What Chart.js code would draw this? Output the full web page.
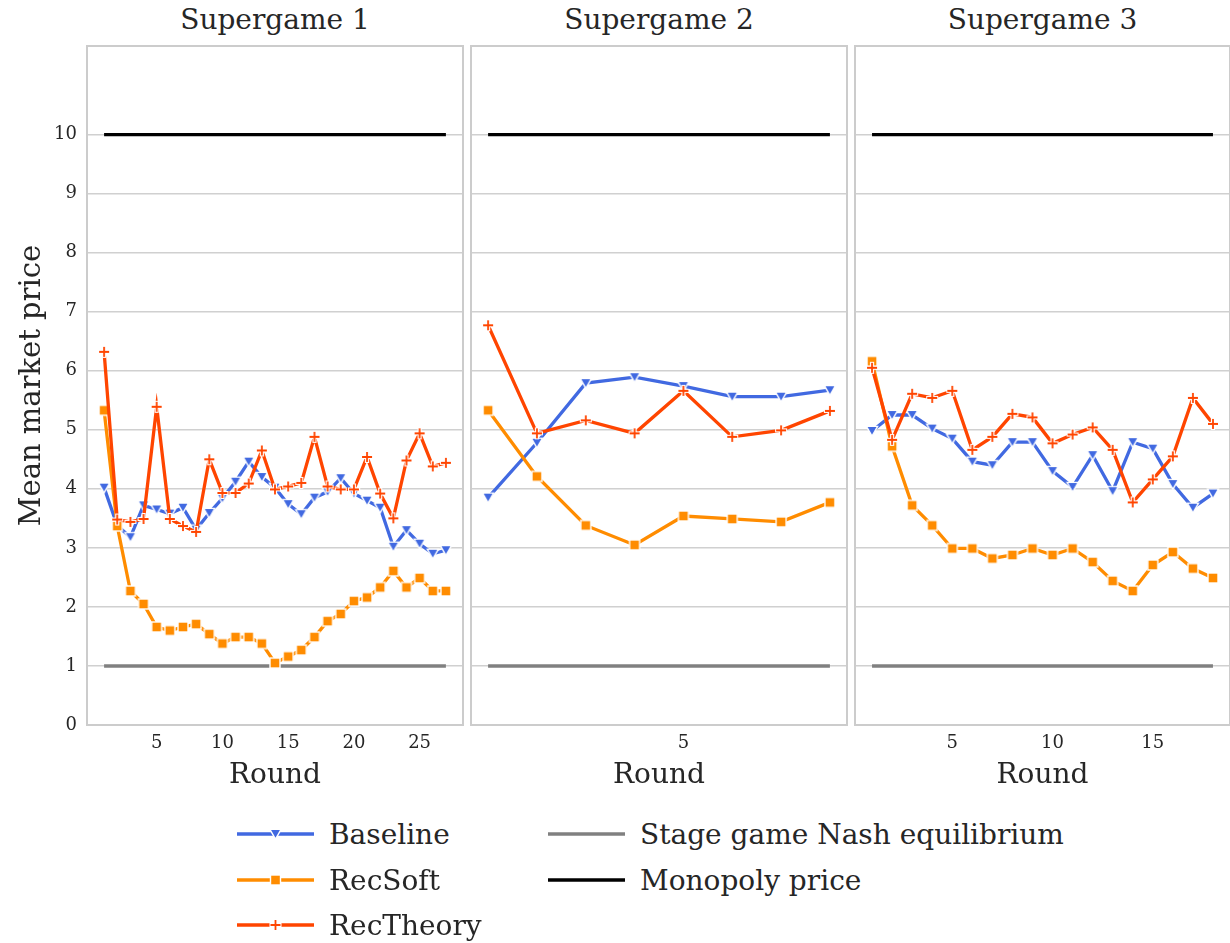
<!DOCTYPE html>
<html><head><meta charset="utf-8">
<script src="https://cdn.jsdelivr.net/npm/chart.js@4.4.0/dist/chart.umd.min.js"></script>
<style>
html,body{margin:0;padding:0;background:#fff;width:1230px;height:943px;overflow:hidden;font-family:"DejaVu Serif",serif;}
canvas.panel{position:absolute;top:0;}
.title{position:absolute;top:0;height:40px;line-height:40px;font-size:28px;color:#262626;text-align:center;white-space:nowrap;}
.leg{position:absolute;height:40px;display:flex;align-items:center;font-size:28px;color:#262626;white-space:nowrap;}
.leg canvas{margin-right:15px;}
</style></head><body>
<div class="title" style="left:87px;width:376px;">Supergame 1</div>
<div class="title" style="left:471px;width:376px;">Supergame 2</div>
<div class="title" style="left:855px;width:375px;">Supergame 3</div>
<canvas id="c1" class="panel" width="466" height="800" style="left:0px;width:466px;height:800px;"></canvas>
<canvas id="c2" class="panel" width="382" height="800" style="left:468px;width:382px;height:800px;"></canvas>
<canvas id="c3" class="panel" width="379" height="800" style="left:851px;width:379px;height:800px;"></canvas>
<div id="legend"></div>
<script>
// ---------- data ----------
const supergames = ['Supergame 1', 'Supergame 2', 'Supergame 3'];
const seriesNames = ['Baseline', 'RecSoft', 'RecTheory'];
const refNames = ['Stage game Nash equilibrium', 'Monopoly price'];
const nashPrice = 1;
const monopolyPrice = 10;

const rounds1 = [1,2,3,4,5,6,7,8,9,10,11,12,13,14,15,16,17,18,19,20,21,22,23,24,25,26,27];
const baseline1 = [4.02,3.38,3.18,3.72,3.65,3.58,3.68,3.31,3.59,3.84,4.12,4.46,4.20,4.02,3.74,3.57,3.85,3.95,4.18,3.92,3.80,3.68,3.02,3.30,3.07,2.90,2.96];
const recSoft1 = [5.33,3.37,2.27,2.05,1.66,1.60,1.66,1.71,1.54,1.38,1.49,1.49,1.38,1.05,1.16,1.27,1.49,1.76,1.88,2.10,2.16,2.33,2.61,2.33,2.49,2.27,2.27];
const recTheory1 = [6.32,3.48,3.44,3.49,5.39,3.49,3.37,3.27,4.50,3.93,3.93,4.09,4.65,3.99,4.04,4.10,4.88,4.04,3.99,3.99,4.54,3.92,3.50,4.48,4.94,4.38,4.44];

const rounds2 = [1,2,3,4,5,6,7,8];
const baseline2 = [3.85,4.78,5.79,5.89,5.74,5.56,5.56,5.67];
const recSoft2 = [5.33,4.21,3.38,3.05,3.54,3.49,3.44,3.77];
const recTheory2 = [6.77,4.94,5.16,4.94,5.66,4.88,4.99,5.32];

const rounds3 = [1,2,3,4,5,6,7,8,9,10,11,12,13,14,15,16,17,18];
const baseline3 = [4.98,5.25,5.25,5.02,4.85,4.46,4.40,4.79,4.79,4.30,4.03,4.57,3.96,4.79,4.68,4.08,3.68,3.92];
const recSoft3 = [6.16,4.72,3.72,3.38,2.99,2.99,2.82,2.88,2.99,2.88,2.99,2.76,2.44,2.27,2.71,2.93,2.65,2.49];
const recTheory3 = [6.05,4.83,5.61,5.54,5.66,4.66,4.88,5.27,5.21,4.77,4.92,5.04,4.66,3.77,4.16,4.55,5.54,5.10];

const yTicks = [0,1,2,3,4,5,6,7,8,9,10];
const xTicks1 = [5,10,15,20,25];
const xTicks2 = [5];
const xTicks3 = [5,10,15];
const xTitle = 'Round';
const yTitle = 'Mean market price';

// ---------- styles ----------
const FONT = '"DejaVu Serif", serif';
const TXT = '#262626';
const BLUE = '#4169E1', ORANGE = '#FF8C00', RED = '#FF4500', GREY = '#808080', BLACK = '#000000';
const GRID = '#d0d0d0';

function mk(w, h, fn){ const c=document.createElement('canvas'); c.width=w; c.height=h; fn(c.getContext('2d'), w, h); return c; }
function drawTri(ctx, cx, cy){
  ctx.beginPath(); ctx.moveTo(cx-5.6, cy-4.6); ctx.lineTo(cx+5.6, cy-4.6); ctx.lineTo(cx, cy+5.2); ctx.closePath();
  ctx.fillStyle=BLUE; ctx.fill(); ctx.strokeStyle='#fff'; ctx.lineWidth=1.4; ctx.stroke();
}
function drawSq(ctx, cx, cy){
  ctx.fillStyle=ORANGE; ctx.fillRect(cx-5, cy-5, 10, 10);
  ctx.strokeStyle='#fff'; ctx.lineWidth=1.4; ctx.strokeRect(cx-5, cy-5, 10, 10);
}
function drawPlus(ctx, cx, cy){
  ctx.lineCap='butt';
  ctx.strokeStyle='#fff'; ctx.lineWidth=4.2;
  ctx.beginPath(); ctx.moveTo(cx-6, cy); ctx.lineTo(cx+6, cy); ctx.moveTo(cx, cy-6); ctx.lineTo(cx, cy+6); ctx.stroke();
  ctx.strokeStyle=RED; ctx.lineWidth=1.8;
  ctx.beginPath(); ctx.moveTo(cx-5, cy); ctx.lineTo(cx+5, cy); ctx.moveTo(cx, cy-5); ctx.lineTo(cx, cy+5); ctx.stroke();
}
const triImg = mk(16,16,(c)=>drawTri(c,8,8));
const sqImg = mk(16,16,(c)=>drawSq(c,8,8));
const plusImg = mk(16,16,(c)=>drawPlus(c,8,8));

const frame = {
  id:'frame',
  beforeDatasetsDraw(chart){
    const a = chart.chartArea, ctx = chart.ctx;
    ctx.save(); ctx.strokeStyle='#cccccc'; ctx.lineWidth=2;
    ctx.strokeRect(a.left, a.top, a.right-a.left, a.bottom-a.top);
    ctx.restore();
  }
};

function pts(xs, ys){ return xs.map((x,i)=>({x:x, y:ys[i]})); }

function makeChart(id, rounds, base, soft, theory, xmin, xmax, xticks, showY, pad){
  const first = rounds[0], last = rounds[rounds.length-1];
  new Chart(document.getElementById(id), {
    type:'line',
    data:{datasets:[
      {label:seriesNames[2], data:pts(rounds, theory), borderColor:RED, borderWidth:3.3, pointStyle:plusImg, pointRadius:7, order:0},
      {label:seriesNames[1], data:pts(rounds, soft), borderColor:ORANGE, borderWidth:3.3, pointStyle:sqImg, pointRadius:7, order:1},
      {label:seriesNames[0], data:pts(rounds, base), borderColor:BLUE, borderWidth:3.3, pointStyle:triImg, pointRadius:7, order:2},
      {label:refNames[1], data:[{x:first,y:monopolyPrice},{x:last,y:monopolyPrice}], borderColor:BLACK, borderWidth:3.2, pointRadius:0, order:3},
      {label:refNames[0], data:[{x:first,y:nashPrice},{x:last,y:nashPrice}], borderColor:GREY, borderWidth:3.6, pointRadius:0, order:4}
    ]},
    options:{
      responsive:false, animation:false, events:[],
      layout:{autoPadding:false, padding:{top:46, left:pad[0], right:pad[1], bottom:0}},
      plugins:{legend:{display:false}, tooltip:{enabled:false}, title:{display:false}},
      scales:{
        x:{type:'linear', min:xmin, max:xmax,
           grid:{display:false, drawTicks:false}, border:{display:false},
           afterBuildTicks:(s)=>{ s.ticks = xticks.map(v=>({value:v})); },
           afterFit:(s)=>{ s.height = 75; },
           ticks:{font:{family:FONT, size:18}, color:TXT, padding:8, maxRotation:0, autoSkip:false},
           title:{display:true, text:xTitle, font:{family:FONT, size:28}, color:TXT, padding:{top:0, bottom:7}}},
        y:{type:'linear', min:0, max:11.5,
           grid:{color:GRID, lineWidth:1.6, drawTicks:false}, border:{display:false},
           afterBuildTicks:(s)=>{ s.ticks = yTicks.map(v=>({value:v})); },
           afterFit:(s)=>{ s.width = showY ? 87 : 0; },
           ticks:{display:showY, font:{family:FONT, size:18}, color:TXT, padding:10},
           title:{display:showY, text:yTitle, font:{family:FONT, size:29}, color:TXT, padding:{top:15, bottom:0}}}
      }
    },
    plugins:[frame]
  });
}

makeChart('c1', rounds1, baseline1, recSoft1, recTheory1, -0.3, 28.3, xTicks1, true, [0,3]);
makeChart('c2', rounds2, baseline2, recSoft2, recTheory2, 0.65, 8.35, xTicks2, false, [3,3]);
makeChart('c3', rounds3, baseline3, recSoft3, recTheory3, 0.15, 18.85, xTicks3, false, [4,0]);

// ---------- legend ----------
const legendItems = [
  {name:seriesNames[0], color:BLUE, marker:drawTri, x:237, y:834},
  {name:seriesNames[1], color:ORANGE, marker:drawSq, x:237, y:880},
  {name:seriesNames[2], color:RED, marker:drawPlus, x:237, y:925},
  {name:refNames[0], color:GREY, marker:null, x:548, y:834},
  {name:refNames[1], color:BLACK, marker:null, x:548, y:880}
];
const lg = document.getElementById('legend');
legendItems.forEach(it=>{
  const d = document.createElement('div'); d.className='leg';
  d.style.left = it.x+'px'; d.style.top = (it.y-20)+'px';
  const c = mk(77, 20, (ctx,w,h)=>{
    ctx.strokeStyle=it.color; ctx.lineWidth=3.5; ctx.beginPath(); ctx.moveTo(0,h/2); ctx.lineTo(w,h/2); ctx.stroke();
    if(it.marker) it.marker(ctx, w/2, h/2);
  });
  d.appendChild(c);
  const s = document.createElement('span'); s.textContent = it.name; d.appendChild(s);
  lg.appendChild(d);
});
</script>
</body></html>
